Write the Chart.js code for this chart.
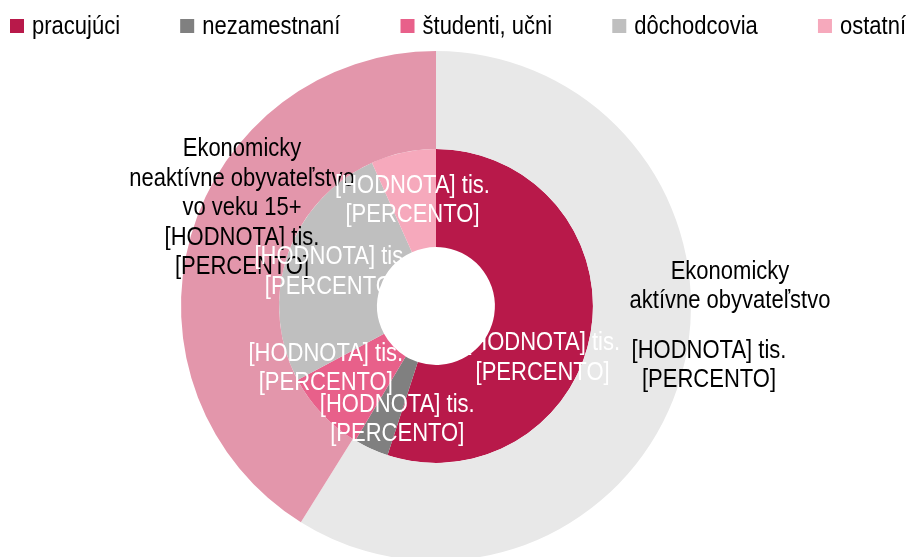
<!DOCTYPE html>
<html>
<head>
<meta charset="utf-8">
<script src="https://cdn.jsdelivr.net/npm/chart.js@4"></script>
<style>
  html, body { margin: 0; padding: 0; background: #fff; overflow: hidden; }
  #wrap { width: 909px; height: 557px; overflow: hidden; position: relative; }
  #wrap canvas { display: block; }
</style>
</head>
<body>
<div id="wrap"><canvas id="chart" width="909" height="561" style="width:909px;height:561px"></canvas></div>
<script>
'use strict';

// outer ring: economic activity groups (tis. persons)
const groupNames  = ['Ekonomicky aktívne obyvateľstvo', 'Ekonomicky neaktívne obyvateľstvo vo veku 15+'];
const groupValues = [2650, 1850];
const groupColors = ['#e8e8e8', '#e396ab'];

// inner ring: categories
const categories     = ['pracujúci', 'nezamestnaní', 'študenti, učni', 'dôchodcovia', 'ostatní'];
const categoryValues = [2475, 162, 387, 1175, 301];
const categoryColors = ['#b8194a', '#808080', '#e8608a', '#bfbfbf', '#f6a9bc'];

// label texts
const groupLabelLines = [
  ['Ekonomicky', 'aktívne obyvateľstvo', '', '[HODNOTA] tis.', '[PERCENTO]'],
  ['Ekonomicky', 'neaktívne obyvateľstvo', 'vo veku 15+', '[HODNOTA] tis.', '[PERCENTO]'],
];
const groupLineShiftX = [[0, 0, 0, -21, -21], [0, 0, 0, 0, 0]];
const categoryLabelLines = ['[HODNOTA] tis.', '[PERCENTO]'];

// label nudges from the arc centre (px)
const groupLabelShift    = [[96, -37], [4, -41]];
const categoryLabelShift = [[0, 35], [6, 15], [-32, -12], [-2, 1], [-1, 0]];

const FONT = '22px "Liberation Sans", Arial, sans-serif';
const STRETCH = 1.16;   // text in the original is drawn a bit taller than wide
const LINE_H = 29.5;
const BLANK_H = 20;

function stretchedText(ctx, text, x, y) {
  ctx.save();
  ctx.translate(x, y);
  ctx.scale(1, STRETCH);
  ctx.fillText(text, 0, 0);
  ctx.restore();
}

function drawBlock(ctx, lines, cx, cy, color, shiftX) {
  const ys = [];
  let y = 0;
  lines.forEach(l => {
    if (l === '') { ys.push(null); y += BLANK_H; return; }
    ys.push(y);
    y += LINE_H;
  });
  const drawn = ys.filter(v => v !== null);
  const mid = (drawn[0] + drawn[drawn.length - 1]) / 2;
  ctx.fillStyle = color;
  lines.forEach((l, i) => {
    if (ys[i] === null) return;
    stretchedText(ctx, l, cx + (shiftX ? shiftX[i] : 0), cy + ys[i] - mid);
  });
}

const labelPlugin = {
  id: 'ringLabels',
  afterDatasetsDraw(chart) {
    const ctx = chart.ctx;
    ctx.save();
    ctx.font = FONT;
    ctx.textAlign = 'center';
    ctx.textBaseline = 'middle';
    chart.getDatasetMeta(0).data.forEach((arc, i) => {
      const p = arc.getCenterPoint();
      drawBlock(ctx, groupLabelLines[i], p.x + groupLabelShift[i][0], p.y + groupLabelShift[i][1], '#000', groupLineShiftX[i]);
    });
    chart.getDatasetMeta(1).data.forEach((arc, i) => {
      const p = arc.getCenterPoint();
      drawBlock(ctx, categoryLabelLines, p.x + categoryLabelShift[i][0], p.y + categoryLabelShift[i][1], '#fff');
    });
    ctx.restore();
  },
};

// legend across the top, spread edge to edge like the original
const legendPlugin = {
  id: 'topLegend',
  afterDraw(chart) {
    const ctx = chart.ctx;
    const box = 14, gapText = 8, left = 10, right = 906, midY = 26;
    ctx.save();
    ctx.font = FONT;
    ctx.textBaseline = 'middle';
    ctx.textAlign = 'left';
    const widths = categories.map(c => ctx.measureText(c).width);
    const used = widths.reduce((a, b) => a + b, 0) + categories.length * (box + gapText);
    const gap = (right - left - used) / (categories.length - 1);
    let x = left;
    categories.forEach((c, i) => {
      ctx.fillStyle = categoryColors[i];
      ctx.fillRect(x, midY - box / 2, box, box);
      ctx.fillStyle = '#000';
      stretchedText(ctx, c, x + box + gapText, midY + 1);
      x += box + gapText + widths[i] + gap;
    });
    ctx.restore();
  },
};

new Chart(document.getElementById('chart'), {
  type: 'doughnut',
  data: {
    labels: categories,
    datasets: [{
      label: 'skupiny',
      data: groupValues,
      backgroundColor: groupColors,
      borderWidth: 0,
    }, {
      label: 'kategórie',
      data: categoryValues,
      backgroundColor: categoryColors,
      borderWidth: 0,
    }],
  },
  options: {
    responsive: false,
    animation: false,
    cutout: '23.1%',
    layout: { padding: { top: 51, left: 0, right: 37, bottom: 0 } },
    plugins: {
      legend: { display: false },
      tooltip: { enabled: false },
    },
  },
  plugins: [labelPlugin, legendPlugin],
});
</script>
</body>
</html>
